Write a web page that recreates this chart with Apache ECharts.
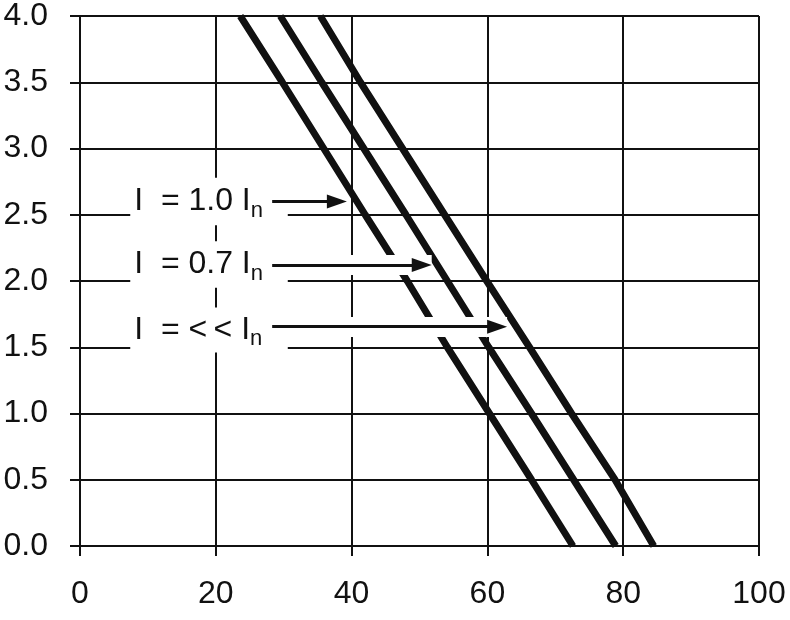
<!DOCTYPE html>
<html><head><meta charset="utf-8">
<script src="https://cdn.jsdelivr.net/npm/echarts@6/dist/echarts.min.js"></script>
<style>html,body{margin:0;padding:0;background:#fff}#c{width:790px;height:620px}</style>
</head><body><div id="c"></div>
<script>
// y levels at which curve x-positions were read
const yLevels = [4.0, 3.5, 3.0, 2.5, 2.0, 1.5, 1.0, 0.5, 0.0];
// curve x values (one per y level)
const curveFull = [23.6, 29.8, 35.9, 42.0, 48.2, 54.1, 60.3, 66.5, 72.6];   // I = 1.0 In
const curve07   = [29.5, 35.6, 41.8, 48.0, 54.1, 60.2, 66.5, 72.7, 78.9];   // I = 0.7 In
const curveLow  = [35.4, 41.3, 47.5, 53.7, 59.9, 66.2, 72.4, 78.8, 84.5];   // I = << In
// annotation labels (main text + subscript)
const labelTexts = ['I  = 1.0 I', 'I  = 0.7 I', 'I  = <\u2009< I'];
const labelSub = 'n';
// label box extents [x0, x1, yTop, yBottom]
const labelBoxes = [[7.4, 30.6, 2.78, 2.42], [7.4, 30.6, 2.30, 1.95], [7.4, 30.6, 1.80, 1.46]];
// arrows: [startX, tipX, y]
const arrows = [[28.3, 39.3, 2.60], [28.3, 51.8, 2.12], [28.3, 62.9, 1.655]];
const haloStartX = 30.6;
// axis ticks
const xTicks = [0, 20, 40, 60, 80, 100];
const yTicks = [0, 0.5, 1.0, 1.5, 2.0, 2.5, 3.0, 3.5, 4.0];

// ---- styling ----
const FONT = 'Liberation Sans, Arial, sans-serif';
const INK = '#111';
const ARROW_HEAD_UNITS = 1.47; // half arrowhead length (10px) in x units

function pts(xs) { return xs.map((x, i) => [x, yLevels[i]]); }

const curveSeries = [curveFull, curve07, curveLow].map((xs, i) => ({
  type: 'line', name: 'c' + i, data: pts(xs), showSymbol: false, symbol: 'none',
  lineStyle: { color: INK, width: 7, cap: 'butt' }, z: 2, silent: true, animation: false
}));

const boxSeries = {
  type: 'line', data: [], z: 1, silent: true, animation: false,
  markArea: {
    silent: true, animation: false,
    itemStyle: { color: '#fff', borderWidth: 0 },
    label: {
      show: true, position: 'insideLeft', distance: 4, color: INK,
      formatter: p => '{t|' + p.name + '}{s|' + labelSub + '}',
      rich: {
        t: { fontSize: 32, fontFamily: FONT, color: INK },
        s: { fontSize: 22, fontFamily: FONT, color: INK, padding: [18, 0, 0, 0] }
      }
    },
    data: labelBoxes.map((b, i) => [
      { name: labelTexts[i], coord: [b[0], b[2]] },
      { coord: [b[1], b[3]] }
    ])
  }
};

const haloSeries = {
  type: 'line', data: [], z: 3, silent: true, animation: false,
  markLine: {
    silent: true, animation: false, symbol: ['none', 'none'], z: 5,
    label: { show: false },
    lineStyle: { color: '#fff', width: 20, type: 'solid', cap: 'butt' },
    data: arrows.map(a => [{ coord: [haloStartX, a[2]] }, { coord: [a[1], a[2]] }])
  }
};

const arrowSeries = {
  type: 'line', data: [], z: 4, silent: true, animation: false,
  markLine: {
    silent: true, animation: false, symbol: ['none', 'triangle'], symbolSize: [14, 20], z: 6,
    label: { show: false },
    lineStyle: { color: INK, width: 3, type: 'solid' },
    itemStyle: { color: INK },
    data: arrows.map(a => [{ coord: [a[0], a[2]] }, { coord: [a[1] - ARROW_HEAD_UNITS, a[2]] }])
  }
};

const chart = echarts.init(document.getElementById('c'), null, { renderer: 'canvas' });
chart.setOption({
  animation: false,
  backgroundColor: '#fff',
  grid: { left: 80, right: 31, top: 16, bottom: 74, containLabel: false },
  xAxis: {
    type: 'value', min: 0, max: 100, interval: 20,
    axisLine: { show: true, onZero: false, lineStyle: { color: INK, width: 2 } },
    axisTick: { show: true, length: 10, lineStyle: { color: INK, width: 2 } },
    axisLabel: { fontSize: 32, fontFamily: FONT, color: INK, margin: 32,
      formatter: v => xTicks.includes(v) ? String(v) : '' },
    splitLine: { show: true, lineStyle: { color: INK, width: 2 } }
  },
  yAxis: {
    type: 'value', min: 0, max: 4, interval: 0.5,
    axisLine: { show: true, onZero: false, lineStyle: { color: INK, width: 2 } },
    axisTick: { show: true, length: 10, lineStyle: { color: INK, width: 2 } },
    axisLabel: { fontSize: 32, fontFamily: FONT, color: INK, margin: 32,
      formatter: v => yTicks.includes(v) ? v.toFixed(1) : '' },
    splitLine: { show: true, lineStyle: { color: INK, width: 2 } }
  },
  series: [boxSeries, ...curveSeries, haloSeries, arrowSeries]
});
</script></body></html>
